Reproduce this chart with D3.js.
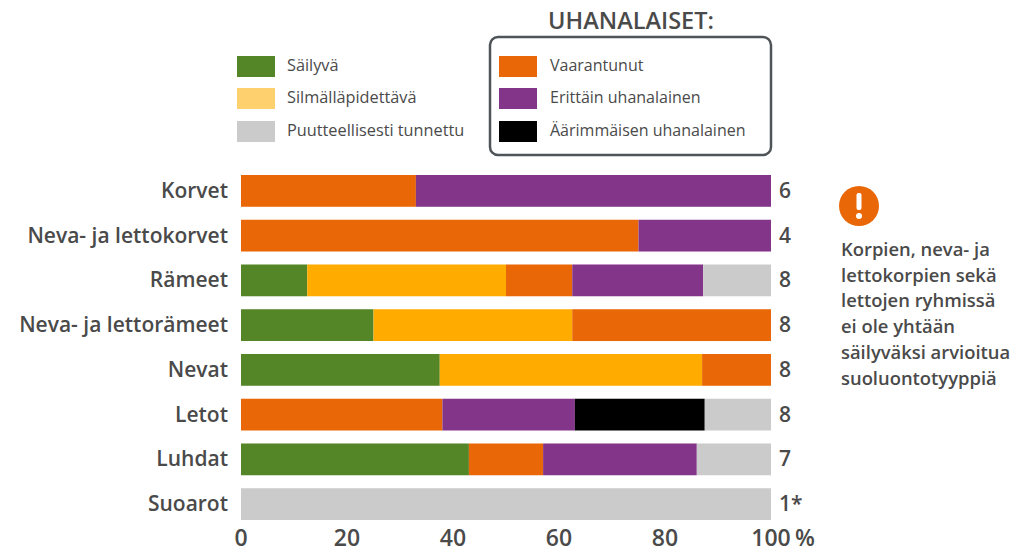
<!DOCTYPE html>
<html><head><meta charset="utf-8">
<script src="https://cdn.jsdelivr.net/npm/d3@7"></script>
<style>html,body{margin:0;padding:0;background:#fff}svg{display:block}text{font-family:"Open Sans",sans-serif;fill:#4a4a4a}</style>
</head><body><svg id="c" width="1035" height="552"></svg>
<script>
const categories=["Korvet","Neva- ja lettokorvet","Rämeet","Neva- ja lettorämeet","Nevat","Letot","Luhdat","Suoarot"];
const counts=["6","4","8","8","8","8","7","1*"];
const statuses=["Säilyvä","Silmälläpidettävä","Vaarantunut","Erittäin uhanalainen","Äärimmäisen uhanalainen","Puutteellisesti tunnettu"];
const colors=["#548527","#ffab00","#e96707","#833589","#000000","#cbcbcb"];
const legendColors=["#548527","#ffd06e","#e96707","#833589","#000000","#cbcbcb"];
const sailyva=[0,0,12.5,25,37.5,0,43,0];
const silmalla=[0,0,37.5,37.5,49.5,0,0,0];
const vaarantunut=[33,75,12.5,37.5,13,38,14,0];
const erittain=[67,25,24.7,0,0,25,29,0];
const aarimmainen=[0,0,0,0,0,24.5,0,0];
const puutteellinen=[0,0,12.8,0,0,12.5,14,100];
const ticks=[0,20,40,60,80,100];
const noteLines=["Korpien, neva- ja","lettokorpien sekä","lettojen ryhmissä","ei ole yhtään","säilyväksi arvioitua","suoluontotyyppiä"];
const seriesValues=[sailyva,silmalla,vaarantunut,erittain,aarimmainen,puutteellinen];

const svg=d3.select("#c");
const x=d3.scaleLinear().domain([0,100]).range([241,771]);
const y=d3.scaleBand().domain(categories).range([175,520]).paddingInner(0.29).paddingOuter(0);

categories.forEach((c,i)=>{
  let acc=0;
  seriesValues.forEach((s,k)=>{
    const v=s[i]; if(!v)return;
    svg.append("rect").attr("x",x(acc)).attr("y",y(c)).attr("width",x(acc+v)-x(acc)).attr("height",y.bandwidth()).attr("fill",colors[k]);
    acc+=v;
  });
  const cy=y(c)+y.bandwidth()/2;
  svg.append("text").attr("x",228).attr("y",cy+7).attr("text-anchor","end").attr("font-size",21).attr("font-weight",600).text(c);
  svg.append("text").attr("x",779).attr("y",cy+7).attr("font-size",21).attr("font-weight",600).text(counts[i]);
});
ticks.forEach(t=>{
  svg.append("text").attr("x",x(t)).attr("y",546).attr("text-anchor","middle").attr("font-size",23).attr("font-weight",600).text(t);
});
svg.append("text").attr("x",795).attr("y",546).attr("font-size",23).attr("font-weight",600).text("%");

const legendRows=[66,98,131];
[0,1,5].forEach((k,i)=>{
  svg.append("rect").attr("x",237).attr("y",legendRows[i]-10).attr("width",38).attr("height",21).attr("fill",legendColors[k]);
  svg.append("text").attr("x",287).attr("y",legendRows[i]+5).attr("font-size",16.3).text(statuses[k]);
});
[2,3,4].forEach((k,i)=>{
  svg.append("rect").attr("x",499).attr("y",legendRows[i]-10).attr("width",38).attr("height",21).attr("fill",legendColors[k]);
  svg.append("text").attr("x",550).attr("y",legendRows[i]+5).attr("font-size",16).text(statuses[k]);
});
svg.append("rect").attr("x",490).attr("y",37).attr("width",281).attr("height",118).attr("rx",8).attr("fill","none").attr("stroke","#4f5458").attr("stroke-width",2.5);
svg.append("text").attr("x",631).attr("y",29).attr("text-anchor","middle").attr("font-size",23.5).attr("font-weight",600).text("UHANALAISET:");

svg.append("circle").attr("cx",859).attr("cy",206).attr("r",20).attr("fill","#e96707");
svg.append("rect").attr("x",856.5).attr("y",193).attr("width",5).attr("height",17).attr("rx",2).attr("fill","#fff");
svg.append("circle").attr("cx",859).attr("cy",216).attr("r",3).attr("fill","#fff");
noteLines.forEach((l,i)=>{
  svg.append("text").attr("x",841).attr("y",256+i*25.7).attr("font-size",18.4).attr("font-weight",600).text(l);
});
</script></body></html>
